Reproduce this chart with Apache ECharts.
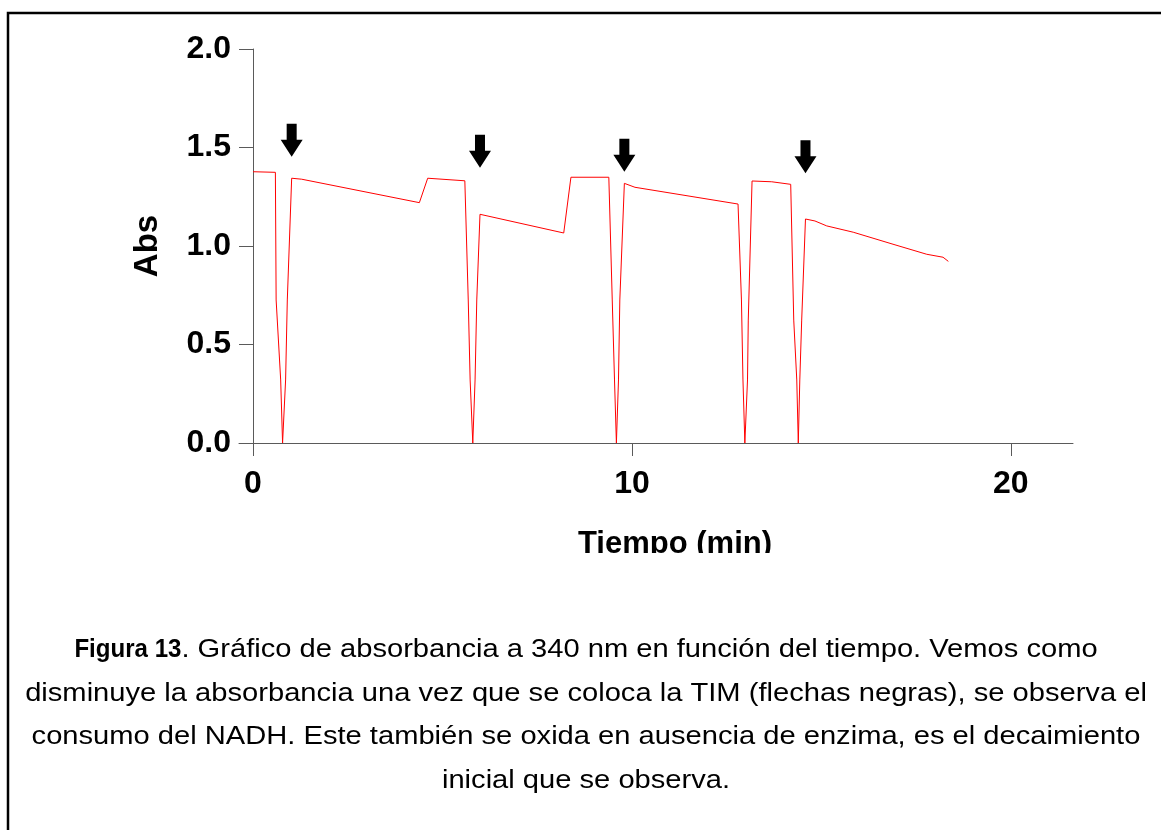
<!DOCTYPE html>
<html>
<head>
<meta charset="utf-8">
<script src="https://cdn.jsdelivr.net/npm/echarts@6/dist/echarts.min.js"></script>
<style>
  html, body { margin: 0; padding: 0; background: #fff; }
  #chart { width: 1161px; height: 830px; }
</style>
</head>
<body>
<div id="chart"></div>
<script>
// Time (min) and absorbance
var timeMin = [0.00, 0.59, 0.61, 0.73, 0.78, 0.86, 0.905, 1.02, 1.285, 4.39, 4.61, 5.59,
  5.68, 5.73, 5.80, 5.86, 5.905, 5.99, 8.20, 8.39, 9.39,
  9.48, 9.54, 9.59, 9.645, 9.68, 9.80, 10.08, 12.80,
  12.89, 12.93, 12.98, 13.05, 13.07, 13.17, 13.69, 14.19,
  14.27, 14.35, 14.39, 14.43, 14.48, 14.58, 14.83, 15.14, 15.84, 16.89, 17.78, 18.21, 18.35];
var absVals = [1.377, 1.374, 0.726, 0.32, 0.0, 0.32, 0.726, 1.344, 1.339, 1.220, 1.344, 1.331,
  0.726, 0.32, 0.0, 0.32, 0.726, 1.161, 1.066, 1.349, 1.349,
  0.726, 0.32, 0.0, 0.32, 0.726, 1.318, 1.298, 1.213,
  0.726, 0.32, 0.0, 0.32, 0.624, 1.330, 1.326, 1.313,
  0.624, 0.32, 0.0, 0.32, 0.624, 1.137, 1.127, 1.102, 1.070, 1.009, 0.958, 0.943, 0.922];

// Arrow marks (TIM additions): tip position
var arrowTime = [1.02, 5.99, 9.80, 14.58];
var arrowAbs = [1.453, 1.397, 1.377, 1.369];

var xTickVals = [0, 10, 20];
var yLabelDecimals = 1;

var xAxisTitle = 'Tiempo (min)';
var yAxisTitle = 'Abs';
var captionBold = 'Figura 13';
var captionLine1Rest = '. Gráfico de absorbancia a 340 nm en función del tiempo. Vemos como';
var captionOtherLines = [
  'disminuye la absorbancia una vez que se coloca la TIM (flechas negras), se observa el',
  'consumo del NADH. Este también se oxida en ausencia de enzima, es el decaimiento',
  'inicial que se observa.'
];

var lineData = timeMin.map(function (t, i) { return [t, absVals[i]]; });
var arrowData = arrowTime.map(function (t, i) { return [t, arrowAbs[i]]; });

var FONT = '"Liberation Sans", Arial, sans-serif';
var axisGray = '#5a5a5a';

// caption layout
var capCenter = 586, capTop = 650, capStep = 43.5;
var boldSize = 25, regSize = 26, regScale = 1.12, boldTargetW = 107;
var mctx = document.createElement('canvas').getContext('2d');
mctx.font = 'bold ' + boldSize + 'px ' + FONT;
var boldRawW = mctx.measureText(captionBold).width;
var boldScale = boldTargetW / boldRawW;
var boldW = boldRawW * boldScale;
mctx.font = regSize + 'px ' + FONT;
var restW = mctx.measureText(captionLine1Rest).width * regScale;
var line1X = capCenter - (boldW + restW) / 2;

var graphics = [
  {
    type: 'rect',
    shape: { x: 8, y: 13, width: 1300, height: 1000 },
    style: { fill: 'none', stroke: '#000', lineWidth: 2.5 },
    silent: true, z: 10
  },
  {
    type: 'rect',
    shape: { x: 560, y: 553, width: 240, height: 20 },
    style: { fill: '#ffffff' },
    silent: true, z: 20
  },
  {
    type: 'text', x: line1X, y: capTop, scaleX: boldScale,
    style: { text: captionBold, textAlign: 'left', textVerticalAlign: 'middle',
      fontFamily: FONT, fontWeight: 'bold', fontSize: boldSize, fill: '#000' },
    z: 10
  },
  {
    type: 'text', x: line1X + boldW, y: capTop, scaleX: regScale,
    style: { text: captionLine1Rest, textAlign: 'left', textVerticalAlign: 'middle',
      fontFamily: FONT, fontSize: regSize, fill: '#000' },
    z: 10
  }
];
captionOtherLines.forEach(function (ln, i) {
  graphics.push({
    type: 'text', x: capCenter, y: capTop + capStep * (i + 1), scaleX: regScale,
    style: { text: ln, textAlign: 'center', textVerticalAlign: 'middle',
      fontFamily: FONT, fontSize: regSize, fill: '#000' },
    z: 10
  });
});

var chart = echarts.init(document.getElementById('chart'), null, { renderer: 'canvas' });
chart.setOption({
  animation: false,
  backgroundColor: '#ffffff',
  grid: { left: 239, right: 88, top: 49, bottom: 387, containLabel: false },
  xAxis: {
    type: 'value',
    min: -0.37,
    max: 21.64,
    name: xAxisTitle,
    nameLocation: 'middle',
    nameGap: 86,
    nameTextStyle: { fontFamily: FONT, fontWeight: 'bold', fontSize: 31, color: '#000', lineHeight: 31, padding: [0, 0, 0, 38] },
    axisLine: { onZero: false, lineStyle: { color: axisGray, width: 1 } },
    axisTick: { show: true, length: 13, customValues: xTickVals, lineStyle: { color: axisGray, width: 1 } },
    axisLabel: { customValues: xTickVals, margin: 25, fontFamily: FONT, fontWeight: 'bold', fontSize: 32, lineHeight: 32, color: '#000' },
    splitLine: { show: false }
  },
  yAxis: {
    type: 'value',
    min: 0,
    max: 2.0,
    interval: 0.5,
    name: yAxisTitle,
    nameLocation: 'middle',
    nameGap: 75,
    nameTextStyle: { fontFamily: FONT, fontWeight: 'bold', fontSize: 33, color: '#000', lineHeight: 33 },
    axisLine: { show: true, onZero: true, lineStyle: { color: axisGray, width: 1 } },
    axisTick: { show: true, length: 14, lineStyle: { color: axisGray, width: 1 } },
    axisLabel: {
      margin: 8, fontFamily: FONT, fontWeight: 'bold', fontSize: 32, color: '#000',
      formatter: function (v) { return v.toFixed(yLabelDecimals); }
    },
    splitLine: { show: false }
  },
  series: [
    {
      type: 'line',
      data: lineData,
      showSymbol: false,
      symbol: 'none',
      lineStyle: { color: '#ff0000', width: 1 },
      z: 3
    },
    {
      type: 'scatter',
      data: arrowData,
      symbol: 'path://M6,0 L16,0 L16,16 L22,16 L11,33 L0,16 L6,16 Z',
      symbolSize: [22, 33],
      symbolOffset: [0, '-50%'],
      itemStyle: { color: '#000000', opacity: 1 },
      z: 4
    }
  ],
  graphic: graphics
});
</script>
</body>
</html>
